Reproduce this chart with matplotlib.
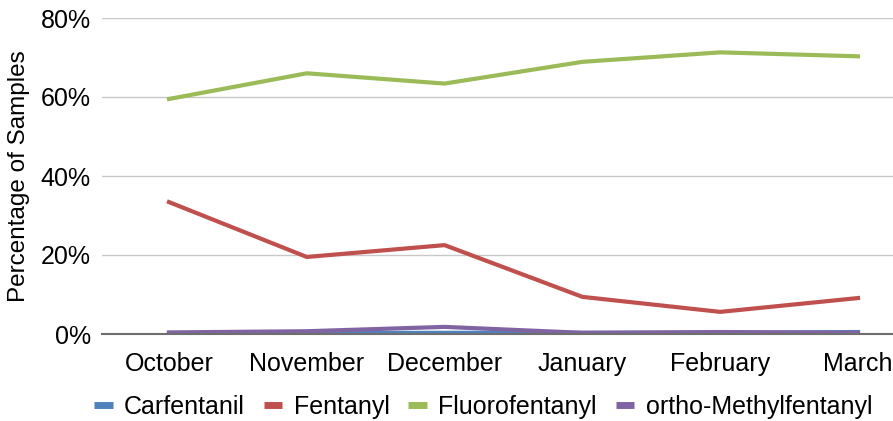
import matplotlib
matplotlib.use("Agg")
import matplotlib.pyplot as plt
from matplotlib.ticker import FuncFormatter

months = ["October", "November", "December", "January", "February", "March"]
carfentanil = [0.1, 0.2, 0.3, 0.3, 0.3, 0.5]
fentanyl = [33.4, 19.5, 22.5, 9.4, 5.6, 9.1]
fluorofentanyl = [59.5, 66.0, 63.4, 68.9, 71.3, 70.3]
ortho_methyl = [0.4, 0.7, 1.8, 0.3, 0.5, 0.3]
series_names = ["Carfentanil", "Fentanyl", "Fluorofentanyl", "ortho-Methylfentanyl"]
colors = ["#4F81BD", "#C0504D", "#9BBB59", "#8064A2"]

plt.rcParams['font.family'] = ['Liberation Sans', 'DejaVu Sans']
FS = 18

fig = plt.figure(figsize=(8.93, 4.21), dpi=100)
ax = fig.add_axes([102/893, 1-334/421, 791/893, 316/421])

x = list(range(len(months)))
for vals, name, c in zip([carfentanil, fentanyl, fluorofentanyl, ortho_methyl], series_names, colors):
    ax.plot(x, vals, color=c, lw=3.0, label=name)

ax.set_xlim(-0.486, 5.254)
ax.set_ylim(0, 80)
ax.set_yticks([0, 20, 40, 60, 80])
ax.yaxis.set_major_formatter(FuncFormatter(lambda v, p: f"{int(v)}%"))
ax.set_xticks(x)
ax.set_xticklabels(months)
ax.grid(axis='y', color='#C8C8C8', lw=1)
ax.set_axisbelow(True)
for s in ['top', 'right', 'left']:
    ax.spines[s].set_visible(False)
ax.spines['bottom'].set_color('#6E6E6E')
ax.spines['bottom'].set_linewidth(1.5)
ax.tick_params(axis='both', length=0, labelsize=FS, colors='black')
ax.tick_params(axis='y', pad=8)
ax.tick_params(axis='x', pad=13)
ax.set_ylabel("Percentage of Samples", fontsize=17.5, labelpad=8)

leg = fig.legend(loc='center', bbox_to_anchor=(0.541, 1-407/421), ncol=4, frameon=False,
                 fontsize=FS, handlelength=0.75, columnspacing=0.75, handletextpad=0.45)
for h in leg.get_lines():
    h.set_linewidth(5)
    h.set_solid_capstyle('butt')

fig.savefig("out.png", dpi=100)
